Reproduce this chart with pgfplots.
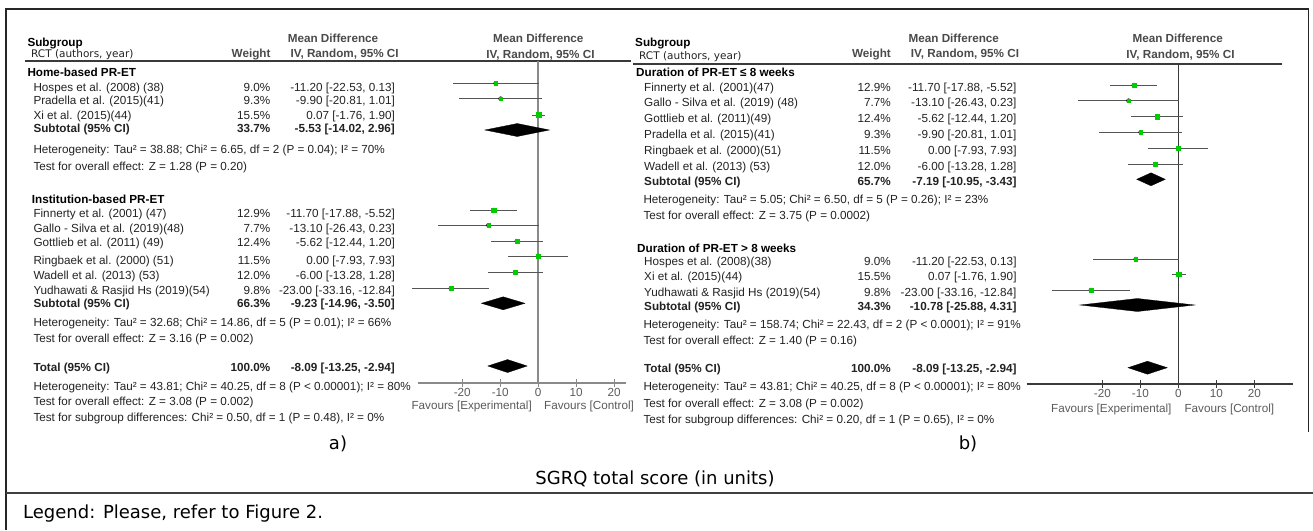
\documentclass[border=0pt]{standalone}
\usepackage{fontspec}
\setmainfont{Liberation Sans}
\newfontfamily\dejavu{DejaVu Sans}
\usepackage{pgfplots}
\usepackage{pgfplotstable}
\pgfplotsset{compat=1.18}
\definecolor{txt}{HTML}{222222}
\definecolor{hdr}{HTML}{4A4A4A}
\definecolor{fav}{HTML}{5A5A5A}
\definecolor{mkgreen}{HTML}{00CC00}
\definecolor{cigray}{HTML}{555555}
\definecolor{lgray}{HTML}{8A8A8A}
\definecolor{dgray}{HTML}{3A3A3A}
\newcommand\fs{\fontsize{11.7}{14}\selectfont}

% y = negative pixel row, mean difference, lower, upper, weight (%)
\pgfplotstableread{
y m lo hi w
-83.3 -11.20 -22.53 0.13 9.0
-98.7 -9.90 -20.81 1.01 9.3
-115 0.07 -1.76 1.90 15.5
-210 -11.70 -17.88 -5.52 12.9
-225.3 -13.10 -26.43 0.23 7.7
-241 -5.62 -12.44 1.20 12.4
-256 0.00 -7.93 7.93 11.5
-272.5 -6.00 -13.28 1.28 12.0
-288.3 -23.00 -33.16 -12.84 9.8
}\leftstudies
\pgfplotstableread{
y m lo hi w
-85 -11.70 -17.88 -5.52 12.9
-100.7 -13.10 -26.43 0.23 7.7
-116.7 -5.62 -12.44 1.20 12.4
-132.3 -9.90 -20.81 1.01 9.3
-148.3 0.00 -7.93 7.93 11.5
-164 -6.00 -13.28 1.28 12.0
-259 -11.20 -22.53 0.13 9.0
-274.3 0.07 -1.76 1.90 15.5
-290 -23.00 -33.16 -12.84 9.8
}\rightstudies

\pgfplotsset{
 forest/.style={anchor=south west, scale only axis, clip=false,
   axis x line*=bottom, axis y line=none,
   xtick={-20,-10,0,10,20}, xticklabels={-20,-10,0,10,20}, ytick=\empty,
   major tick length=8pt, tick align=center,
   xticklabel style={font=\fs, text=fav, anchor=base, inner sep=0pt, yshift=-9.5pt},
   x axis line style={-}},
 ci/.style={only marks, mark=none, forget plot,
   error bars/.cd, x dir=both, x explicit, error mark=none,
   error bar style={cigray, line width=0.9pt}},
 sq/.style={scatter, only marks, mark=square*,
   scatter/use mapped color={draw=mkgreen, fill=mkgreen},
   visualization depends on={0.6*sqrt(\thisrow{w}) \as \msz},
   scatter/@pre marker code/.append style={/tikz/mark size=\msz}},
 dia/.style={fill=black, draw=black, line width=0.3pt, mark=none},
}

\newcommand\lrow[4]{\node[L] at (33.3,#1) {#2}; \node[R] at (270.5,#1) {#3}; \node[R] at (395,#1) {#4};}
\newcommand\lrowb[4]{\node[L,B] at (33.3,#1) {#2}; \node[R,B] at (270.5,#1) {#3}; \node[R,B] at (395,#1) {#4};}
\newcommand\rrow[4]{\node[L] at (644,#1) {#2}; \node[R] at (891,#1) {#3}; \node[R] at (1016.7,#1) {#4};}
\newcommand\rrowb[4]{\node[L,B] at (644,#1) {#2}; \node[R,B] at (891,#1) {#3}; \node[R,B] at (1016.7,#1) {#4};}

\begin{document}
\begin{tikzpicture}
\useasboundingbox (0,0) rectangle (1313pt,-530pt);
\begin{scope}[x=1pt,y=-1pt]
\draw[line width=1.8pt, black!85] (5,9) -- (1309,9);
\draw[line width=1.5pt, black!85] (6,9) -- (6,530);
\draw[line width=1.5pt, black!85] (1308.5,9) -- (1308.5,432);
\draw[line width=2pt, black!75] (6,493) -- (1313,493);
\draw[line width=1.3pt, dgray] (25,61) -- (631,61);
\draw[line width=1.3pt, dgray] (633,64) -- (1282,64);
\end{scope}

% ---------- left forest plot ----------
\begin{axis}[forest, at={(417.8pt,-383pt)}, width=208.2pt, height=322pt,
  xmin=-31.7, xmax=23.1, ymin=-383, ymax=-61,
  axis line style={lgray, line width=1.3pt}, tick style={lgray, line width=1.1pt}]
\addplot[lgray, line width=1.6pt, mark=none] coordinates {(0,-61) (0,-383)};
\addplot[ci] table[x=m, y=y, x error plus expr=\thisrow{hi}-\thisrow{m}, x error minus expr=\thisrow{m}-\thisrow{lo}] \leftstudies;
\addplot[sq] table[x=m, y=y, meta=w] \leftstudies;
\addplot[dia] coordinates {(-14.02,-130) (-5.53,-123.5) (2.96,-130) (-5.53,-136.5)} --cycle;
\addplot[dia] coordinates {(-14.96,-303.3) (-9.23,-296.8) (-3.50,-303.3) (-9.23,-309.8)} --cycle;
\addplot[dia] coordinates {(-13.25,-366) (-8.09,-359.5) (-2.94,-366) (-8.09,-372.5)} --cycle;
\end{axis}

% ---------- right forest plot ----------
\begin{axis}[forest, at={(1026.7pt,-384pt)}, width=266pt, height=320pt,
  xmin=-39.9, xmax=30.1, ymin=-384, ymax=-64,
  axis line style={dgray, line width=1.2pt}, tick style={dgray, line width=1pt}]
\addplot[dgray, line width=1.1pt, mark=none] coordinates {(0,-64) (0,-384)};
\addplot[ci] table[x=m, y=y, x error plus expr=\thisrow{hi}-\thisrow{m}, x error minus expr=\thisrow{m}-\thisrow{lo}] \rightstudies;
\addplot[sq] table[x=m, y=y, meta=w] \rightstudies;
\addplot[dia] coordinates {(-10.95,-179.3) (-7.19,-172.8) (-3.43,-179.3) (-7.19,-185.8)} --cycle;
\addplot[dia] coordinates {(-25.88,-305) (-10.78,-298.5) (4.31,-305) (-10.78,-311.5)} --cycle;
\addplot[dia] coordinates {(-13.25,-367.7) (-8.09,-361.2) (-2.94,-367.7) (-8.09,-374.2)} --cycle;
\end{axis}

\begin{scope}[x=1pt,y=-1pt, every node/.style={inner sep=0pt, font=\fs, text=txt},
  L/.style={anchor=base west}, R/.style={anchor=base east}, C/.style={anchor=base},
  B/.style={font=\fs\bfseries}, H/.style={font=\fs\bfseries, text=hdr}]
% left table header
\node[L,B,text=black] at (27.3,46) {Subgroup};
\node[L,font=\dejavu\fontsize{10.5}{12}\selectfont] at (31,57.3) {RCT (authors, year)};
\node[C,H] at (333,42.7) {Mean Difference};
\node[R,H] at (270.7,57.7) {Weight};
\node[C,H] at (344.6,57.7) {IV, Random, 95\% CI};
\node[C,H] at (538.3,42.7) {Mean Difference};
\node[C,H] at (540.5,58.3) {IV, Random, 95\% CI};
% left body
\node[L,B,text=black] at (27.3,76) {Home-based PR-ET};
\lrow{91.7}{Hospes et al. (2008) (38)}{9.0\%}{-11.20 [-22.53, 0.13]}
\lrow{104.3}{Pradella et al. (2015)(41)}{9.3\%}{-9.90 [-20.81, 1.01]}
\lrow{119.3}{Xi et al. (2015)(44)}{15.5\%}{0.07 [-1.76, 1.90]}
\lrowb{132.3}{Subtotal (95\% CI)}{33.7\%}{-5.53 [-14.02, 2.96]}
\node[L] at (33.3,153.3) {Heterogeneity: Tau² = 38.88; Chi² = 6.65, df = 2 (P = 0.04); I² = 70\%};
\node[L] at (33.3,170) {Test for overall effect: Z = 1.28 (P = 0.20)};
\node[L,B,text=black] at (31.7,203.3) {Institution-based PR-ET};
\lrow{217.3}{Finnerty et al. (2001) (47)}{12.9\%}{-11.70 [-17.88, -5.52]}
\lrow{232.3}{Gallo - Silva et al. (2019)(48)}{7.7\%}{-13.10 [-26.43, 0.23]}
\lrow{246.7}{Gottlieb et al. (2011) (49)}{12.4\%}{-5.62 [-12.44, 1.20]}
\lrow{264}{Ringbaek et al. (2000) (51)}{11.5\%}{0.00 [-7.93, 7.93]}
\lrow{279}{Wadell et al. (2013) (53)}{12.0\%}{-6.00 [-13.28, 1.28]}
\lrow{294}{Yudhawati \& Rasjid Hs (2019)(54)}{9.8\%}{-23.00 [-33.16, -12.84]}
\lrowb{307.7}{Subtotal (95\% CI)}{66.3\%}{-9.23 [-14.96, -3.50]}
\node[L] at (33.3,326) {Heterogeneity: Tau² = 32.68; Chi² = 14.86, df = 5 (P = 0.01); I² = 66\%};
\node[L] at (33.3,342.7) {Test for overall effect: Z = 3.16 (P = 0.002)};
\lrowb{371}{Total (95\% CI)}{100.0\%}{-8.09 [-13.25, -2.94]}
\node[L] at (33.3,390) {Heterogeneity: Tau² = 43.81; Chi² = 40.25, df = 8 (P < 0.00001); I² = 80\%};
\node[L] at (33.3,405.7) {Test for overall effect: Z = 3.08 (P = 0.002)};
\node[L] at (33.3,421.7) {Test for subgroup differences: Chi² = 0.50, df = 1 (P = 0.48), I² = 0\%};
\node[R,text=fav] at (532,409.3) {Favours [Experimental]};
\node[L,text=fav] at (544,409.3) {Favours [Control]};
% right table header
\node[L,B,text=black] at (635,46.7) {Subgroup};
\node[L,font=\dejavu\fontsize{10.5}{12}\selectfont] at (639,59.5) {RCT (authors, year)};
\node[C,H] at (953.8,42.7) {Mean Difference};
\node[R,H] at (891,57.7) {Weight};
\node[C,H] at (965,57.7) {IV, Random, 95\% CI};
\node[C,H] at (1177.7,42.7) {Mean Difference};
\node[C,H] at (1180.5,58.3) {IV, Random, 95\% CI};
% right body
\node[L,B,text=black] at (636,76) {Duration of PR-ET ≤ 8 weeks};
\rrow{91}{Finnerty et al. (2001)(47)}{12.9\%}{-11.70 [-17.88, -5.52]}
\rrow{106.7}{Gallo - Silva et al. (2019) (48)}{7.7\%}{-13.10 [-26.43, 0.23]}
\rrow{122.7}{Gottlieb et al. (2011)(49)}{12.4\%}{-5.62 [-12.44, 1.20]}
\rrow{138.3}{Pradella et al. (2015)(41)}{9.3\%}{-9.90 [-20.81, 1.01]}
\rrow{154.3}{Ringbaek et al. (2000)(51)}{11.5\%}{0.00 [-7.93, 7.93]}
\rrow{170}{Wadell et al. (2013) (53)}{12.0\%}{-6.00 [-13.28, 1.28]}
\rrowb{185}{Subtotal (95\% CI)}{65.7\%}{-7.19 [-10.95, -3.43]}
\node[L] at (643.3,203.3) {Heterogeneity: Tau² = 5.05; Chi² = 6.50, df = 5 (P = 0.26); I² = 23\%};
\node[L] at (643.3,219) {Test for overall effect: Z = 3.75 (P = 0.0002)};
\node[L,B,text=black] at (637,252.7) {Duration of PR-ET > 8 weeks};
\rrow{265.7}{Hospes et al. (2008)(38)}{9.0\%}{-11.20 [-22.53, 0.13]}
\rrow{280.7}{Xi et al. (2015)(44)}{15.5\%}{0.07 [-1.76, 1.90]}
\rrow{296}{Yudhawati \& Rasjid Hs (2019)(54)}{9.8\%}{-23.00 [-33.16, -12.84]}
\rrowb{310.7}{Subtotal (95\% CI)}{34.3\%}{-10.78 [-25.88, 4.31]}
\node[L] at (643.3,328.3) {Heterogeneity: Tau² = 158.74; Chi² = 22.43, df = 2 (P < 0.0001); I² = 91\%};
\node[L] at (643.3,344) {Test for overall effect: Z = 1.40 (P = 0.16)};
\rrowb{372.7}{Total (95\% CI)}{100.0\%}{-8.09 [-13.25, -2.94]}
\node[L] at (643.3,390.7) {Heterogeneity: Tau² = 43.81; Chi² = 40.25, df = 8 (P < 0.00001); I² = 80\%};
\node[L] at (643.3,407.3) {Test for overall effect: Z = 3.08 (P = 0.002)};
\node[L] at (643.3,423.3) {Test for subgroup differences: Chi² = 0.20, df = 1 (P = 0.65), I² = 0\%};
\node[R,text=fav] at (1171.7,412.5) {Favours [Experimental]};
\node[L,text=fav] at (1184.3,412.5) {Favours [Control]};
% captions
\node[C,font=\dejavu\fontsize{18}{20}\selectfont,text=black] at (338,449) {a)};
\node[C,font=\dejavu\fontsize{18}{20}\selectfont,text=black] at (968,449) {b)};
\node[C,font=\dejavu\fontsize{18}{20}\selectfont,text=black] at (655,484) {SGRQ total score (in units)};
\node[L,font=\dejavu\fontsize{18}{20}\selectfont,text=black] at (23,518.3) {Legend: Please, refer to Figure 2.};
\end{scope}
\end{tikzpicture}
\end{document}
